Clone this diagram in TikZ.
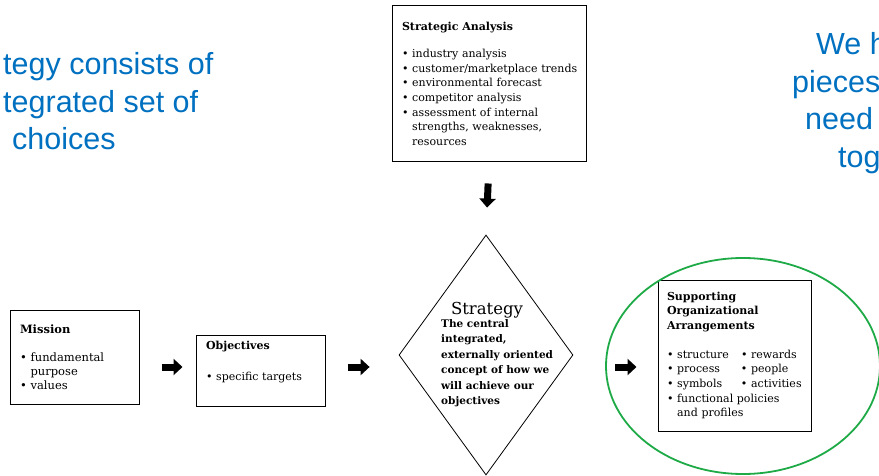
\documentclass[tikz,border=0pt]{standalone}
\usepackage{fontspec}
\setmainfont{DejaVu Serif}
\newfontfamily\notefont{Liberation Sans}
\usepackage{xcolor}
\usetikzlibrary{arrows.meta,shapes.geometric}
\definecolor{noteblue}{RGB}{0,112,192}
\definecolor{ringgreen}{RGB}{30,170,70}
\newcommand{\bul}{\textbullet~}
\newcommand{\hang}{\phantom{\textbullet~}}

\begin{document}
\begin{tikzpicture}[x=1pt,y=-1pt,
  panel/.style={draw, line width=1pt, align=left, inner xsep=10pt, inner ysep=0pt,
    font=\fontsize{11}{14.7}\selectfont,
    execute at begin node={\hyphenpenalty=10000\exhyphenpenalty=10000}},
  blockarrow/.style={line width=7pt, -{Triangle[length=9pt,width=16pt]}},
  bluenote/.style={text=noteblue, anchor=base west, inner sep=0pt,
    font=\notefont\fontsize{30.5}{36}\selectfont}]
\useasboundingbox (0,0) rectangle (879,476);
\clip (0,0) rectangle (879,476);

% Side notes
\node[bluenote] (leftA) at (3,75) {tegy consists of};
\node[bluenote] (leftB) at (3,113) {tegrated set of};
\node[bluenote] (leftC) at (12,150) {choices};
\node[bluenote] (rightA) at (816,55) {We h};
\node[bluenote] (rightB) at (792,92.5) {pieces};
\node[bluenote] (rightC) at (805,130) {need};
\node[bluenote] (rightD) at (838,167.5) {tog};

% Boxes
\node[panel, minimum width=194pt, minimum height=156pt, text width=174pt] (analysis) at (489,84)
  {\textbf{Strategic Analysis}\\[12pt]
   \bul industry analysis\\
   \bul customer/marketplace~trends\\
   \bul environmental forecast\\
   \bul competitor analysis\\
   \bul assessment of internal\\
   \hang strengths, weaknesses,\\
   \hang resources};
\node[panel, minimum width=129pt, minimum height=94pt, text width=109pt,
  font=\fontsize{11.5}{14}\selectfont] (mission) at (74.5,357)
  {\textbf{Mission}\\[14pt]
   \bul fundamental\\
   \hang purpose\\
   \bul values};
\node[panel, minimum width=129pt, minimum height=71pt, text width=109pt] (objectives) at (260.5,370.5)
  {\textbf{Objectives}\\[16pt]
   \bul specific targets\\[4pt]~};
\node[panel, inner xsep=9pt, minimum width=153pt, minimum height=151pt, text width=135pt] (supporting) at (734.5,355.5)
  {\textbf{Supporting}\\
   \textbf{Organizational}\\
   \textbf{Arrangements}\\[14pt]
   \makebox[74pt][l]{\bul structure}\bul rewards\\
   \makebox[74pt][l]{\bul process}\bul people\\
   \makebox[74pt][l]{\bul symbols}\bul activities\\
   \bul functional policies\\
   \hang and profiles};

% Strategy diamond
\node[draw, diamond, line width=0.8pt, minimum width=174pt, minimum height=240pt, inner sep=0pt] (strategy) at (486,355) {};
\node[font=\fontsize{16.5}{18}\selectfont, inner sep=0pt] (strattitle) at (487,310) {Strategy};
\node[anchor=north west, align=left, inner sep=0pt, font=\bfseries\fontsize{10.5}{15.5}\selectfont] (stratbody) at (441,319)
  {The central\\
   integrated,\\
   externally oriented\\
   concept of how we\\
   will achieve our\\
   objectives};

% Green ring
\draw[ringgreen, line width=1.8pt] (743,366) ellipse [x radius=137pt, y radius=108pt];

% Arrows
\coordinate (row) at (0,367);
\draw[blockarrow, shorten <=21pt, shorten >=27pt] (analysis.south) -- (strategy.north);
\draw[blockarrow, shorten <=22pt, shorten >=13pt] (mission.east |- row) -- (objectives.west |- row);
\draw[blockarrow, shorten <=22pt, shorten >=29pt] (objectives.east |- row) -- (strategy.west |- row);
\draw[blockarrow, shorten <=42pt, shorten >=21pt] (strategy.east |- row) -- (supporting.west |- row);
\end{tikzpicture}
\end{document}
